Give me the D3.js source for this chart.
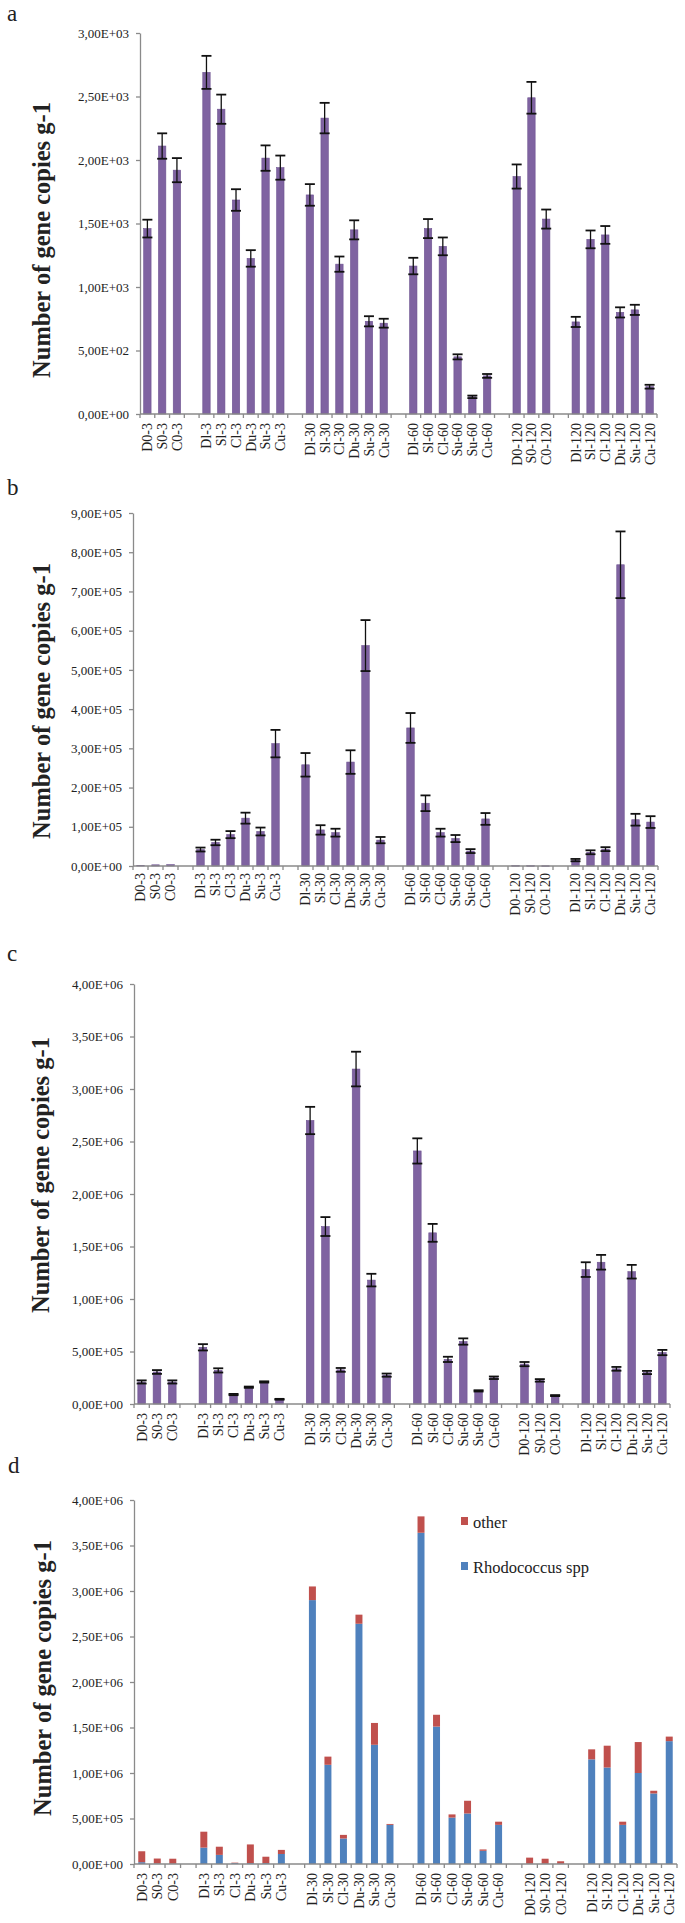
<!DOCTYPE html>
<html>
<head>
<meta charset="utf-8">
<script src="https://cdn.jsdelivr.net/npm/d3@7"></script>
<style>
  html, body { margin: 0; padding: 0; background: #fff; }
  svg { display: block; }
  text { font-family: "Liberation Serif", "Times New Roman", serif; fill: #222; }
</style>
</head>
<body>
<svg id="chart" width="685" height="1923"></svg>
<script>
// ---------- data ----------
const categories = ["D0-3","S0-3","C0-3","","Dl-3","Sl-3","Cl-3","Du-3","Su-3","Cu-3","",
  "Dl-30","Sl-30","Cl-30","Du-30","Su-30","Cu-30","",
  "Dl-60","Sl-60","Cl-60","Su-60","Su-60","Cu-60","",
  "D0-120","S0-120","C0-120","",
  "Dl-120","Sl-120","Cl-120","Du-120","Su-120","Cu-120"];

const valuesA = [1460,2110,1920,null,2690,2400,1685,1225,2015,1940,null,
  1725,2330,1180,1450,730,715,null,
  1165,1460,1320,450,135,300,null,
  1870,2490,1535,null,
  725,1375,1410,800,820,215];
const errA = [70,100,95,null,130,115,85,65,100,95,null,
  85,120,60,75,40,35,null,
  65,75,70,20,10,15,null,
  95,125,75,null,
  40,70,70,40,40,15];

const valuesB = [1500,3000,3500,null,42000,60000,80000,122000,88000,312000,null,
  258000,92000,85000,265000,562000,66000,null,
  352000,160000,85000,70000,38000,120000,null,
  1000,800,600,null,
  15000,35000,43000,768000,118000,112000];
const errB = [0,0,0,null,5000,7000,9000,14000,10000,35000,null,
  30000,12000,10000,30000,65000,8000,null,
  38000,20000,10000,9000,5000,15000,null,
  0,0,0,null,
  3000,5000,5000,85000,15000,15000];

const valuesC = [210000,305000,210000,null,540000,320000,90000,160000,210000,45000,null,
  2700000,1690000,325000,3190000,1180000,275000,null,
  2410000,1630000,425000,595000,125000,250000,null,
  380000,225000,80000,null,
  1280000,1350000,335000,1260000,300000,490000];
const errC = [15000,18000,15000,null,30000,20000,6000,6000,6000,4000,null,
  130000,90000,18000,165000,60000,15000,null,
  120000,85000,25000,30000,6000,12000,null,
  20000,12000,5000,null,
  70000,70000,18000,65000,15000,25000];

const rhodococcusD = [20000,5000,3000,null,180000,100000,10000,10000,10000,110000,null,
  2900000,1090000,280000,2640000,1310000,430000,null,
  3640000,1510000,510000,555000,145000,430000,null,
  3000,3000,3000,null,
  1150000,1060000,430000,1000000,775000,1350000];
const otherD = [120000,55000,55000,null,175000,90000,5000,205000,70000,45000,null,
  150000,90000,40000,100000,240000,10000,null,
  180000,130000,35000,140000,15000,35000,null,
  67000,55000,27000,null,
  110000,240000,35000,340000,30000,50000];

const tickMaxA = 3000, tickStepA = 500;
const tickMaxB = 900000, tickStepB = 100000;
const tickMaxC = 4000000, tickStepC = 500000;
const tickMaxD = 4000000, tickStepD = 500000;

const seriesNames = ["other", "Rhodococcus spp"];
const yTitle = "Number of gene copies g-1";
const panelLetters = ["a","b","c","d"];

// ---------- helpers ----------
const svg = d3.select("#chart");
const axisColor = "#8a8a8a";
const purple = "#7f63a1";
const blue = "#4f81bd";
const red = "#c0504d";
const serif = "'Liberation Serif', 'Times New Roman', serif";

function fmt(v) {
  if (v === 0) return "0,00E+00";
  const s = v.toExponential(2); // e.g. "3.00e+3"
  const [m, e] = s.split("e");
  const sign = e[0] === "-" ? "-" : "+";
  const ex = e.replace(/[+-]/, "").padStart(2, "0");
  return m.replace(".", ",") + "E" + sign + ex;
}

function panel(cfg) {
  const g = svg.append("g");
  const x = d3.scaleBand().domain(d3.range(categories.length))
    .range([cfg.left, cfg.right]).paddingInner(0).paddingOuter(0);
  const y = d3.scaleLinear().domain([0, cfg.max]).range([cfg.zero, cfg.top]);
  const bw = x.bandwidth() * cfg.barFrac;

  // y axis
  const ya = g.append("g").attr("transform", `translate(${cfg.left},0)`)
    .call(d3.axisLeft(y).tickValues(d3.range(0, cfg.max + cfg.step / 2, cfg.step))
      .tickFormat(fmt).tickSize(4).tickSizeOuter(0).tickPadding(7));
  ya.attr("font-family", serif).attr("font-size", 13);
  ya.select(".domain").attr("stroke", axisColor).attr("stroke-width", 1.3);
  ya.selectAll(".tick line").attr("stroke", axisColor).attr("stroke-width", 1.3);
  ya.selectAll(".tick text").attr("font-size", 13).attr("fill", "#333")
    .attr("font-family", serif).style("font-family", serif);

  // bars
  if (cfg.stacked) {
    const idx = d3.range(categories.length).filter(i => cfg.blue[i] != null);
    g.selectAll(".bb").data(idx).join("rect")
      .attr("x", i => x(i) + (x.bandwidth() - bw) / 2)
      .attr("width", bw)
      .attr("y", i => y(cfg.blue[i]))
      .attr("height", i => y(0) - y(cfg.blue[i]))
      .attr("fill", blue);
    g.selectAll(".rb").data(idx).join("rect")
      .attr("x", i => x(i) + (x.bandwidth() - bw) / 2)
      .attr("width", bw)
      .attr("y", i => y(cfg.blue[i] + cfg.red[i]))
      .attr("height", i => y(cfg.blue[i]) - y(cfg.blue[i] + cfg.red[i]))
      .attr("fill", red);
  } else {
    const idx = d3.range(categories.length).filter(i => cfg.values[i] != null);
    g.selectAll(".bar").data(idx).join("rect")
      .attr("x", i => x(i) + (x.bandwidth() - bw) / 2)
      .attr("width", bw)
      .attr("y", i => y(cfg.values[i]))
      .attr("height", i => Math.max(0.6, y(0) - y(cfg.values[i])))
      .attr("fill", purple)
      .attr("stroke", "#6d5290").attr("stroke-width", 0.6);
    // error bars
    const eidx = idx.filter(i => cfg.errs[i] > 0);
    const cw = 5;
    const eb = g.selectAll(".err").data(eidx).join("g");
    eb.append("line")
      .attr("x1", i => x(i) + x.bandwidth() / 2).attr("x2", i => x(i) + x.bandwidth() / 2)
      .attr("y1", i => y(cfg.values[i] + cfg.errs[i])).attr("y2", i => y(cfg.values[i] - cfg.errs[i]))
      .attr("stroke", "#111").attr("stroke-width", 1.3);
    eb.append("line")
      .attr("x1", i => x(i) + x.bandwidth() / 2 - cw).attr("x2", i => x(i) + x.bandwidth() / 2 + cw)
      .attr("y1", i => y(cfg.values[i] + cfg.errs[i])).attr("y2", i => y(cfg.values[i] + cfg.errs[i]))
      .attr("stroke", "#111").attr("stroke-width", 1.8);
    eb.append("line")
      .attr("x1", i => x(i) + x.bandwidth() / 2 - cw).attr("x2", i => x(i) + x.bandwidth() / 2 + cw)
      .attr("y1", i => y(cfg.values[i] - cfg.errs[i])).attr("y2", i => y(cfg.values[i] - cfg.errs[i]))
      .attr("stroke", "#111").attr("stroke-width", 1.8);
  }

  // x axis line and boundary ticks
  g.append("line").attr("x1", cfg.left).attr("x2", cfg.right)
    .attr("y1", y(0)).attr("y2", y(0)).attr("stroke", axisColor).attr("stroke-width", 1.3);
  const bounds = d3.range(categories.length).map(i => x(i)).concat([cfg.right]);
  g.selectAll(".xt").data(bounds).join("line")
    .attr("x1", d => d).attr("x2", d => d)
    .attr("y1", y(0)).attr("y2", y(0) + 4)
    .attr("stroke", axisColor).attr("stroke-width", 1.3);

  // category labels
  g.selectAll(".xl").data(d3.range(categories.length).filter(i => categories[i] !== "")).join("text")
    .attr("transform", i => `translate(${x(i) + x.bandwidth() / 2},${y(0) + cfg.labelGap}) rotate(-90)`)
    .attr("text-anchor", "end")
    .attr("dy", "0.35em")
    .attr("font-size", 14)
    .attr("fill", "#222")
    .text(i => categories[i]);

  // y title
  g.append("text")
    .attr("transform", `translate(${cfg.titleX},${cfg.titleY}) rotate(-90)`)
    .attr("text-anchor", "middle")
    .attr("font-size", 24.5)
    .attr("font-weight", "bold")
    .attr("fill", "#111")
    .text(yTitle);

  // panel letter
  g.append("text").attr("x", cfg.letterX).attr("y", cfg.letterY)
    .attr("font-size", 23).attr("fill", "#111").text(cfg.letter);

  return { g, x, y };
}

panel({ letter: panelLetters[0], letterX: 7, letterY: 21,
  left: 140, right: 657, top: 33, zero: 414, max: tickMaxA, step: tickStepA,
  values: valuesA, errs: errA, barFrac: 0.5, labelGap: 9, titleX: 50, titleY: 240 });

panel({ letter: panelLetters[1], letterX: 7, letterY: 495,
  left: 133, right: 658, top: 513, zero: 866, max: tickMaxB, step: tickStepB,
  values: valuesB, errs: errB, barFrac: 0.5, labelGap: 7, titleX: 50, titleY: 701 });

panel({ letter: panelLetters[2], letterX: 7, letterY: 961,
  left: 134, right: 670, top: 984, zero: 1404, max: tickMaxC, step: tickStepC,
  values: valuesC, errs: errC, barFrac: 0.5, labelGap: 9, titleX: 49, titleY: 1175 });

const pd = panel({ letter: panelLetters[3], letterX: 8, letterY: 1473,
  left: 134, right: 677, top: 1500, zero: 1864, max: tickMaxD, step: tickStepD,
  stacked: true, blue: rhodococcusD, red: otherD, barFrac: 0.45, labelGap: 9, titleX: 51, titleY: 1678 });

// legend for panel d
const leg = pd.g.append("g");
const legItems = [{ name: seriesNames[0], color: red, y: 1522 }, { name: seriesNames[1], color: blue, y: 1567 }];
leg.selectAll("rect").data(legItems).join("rect")
  .attr("x", 461).attr("y", d => d.y - 5).attr("width", 7).attr("height", 8).attr("fill", d => d.color);
leg.selectAll("text").data(legItems).join("text")
  .attr("x", 473).attr("y", d => d.y + 6).attr("font-size", 16.5).attr("fill", "#111")
  .text(d => d.name);
</script>
</body>
</html>
